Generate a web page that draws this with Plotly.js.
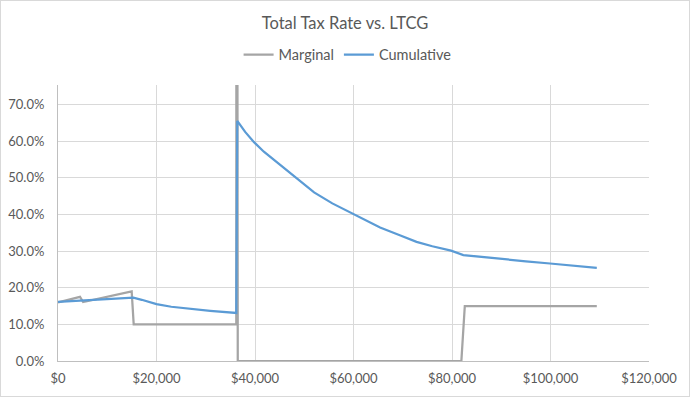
<!DOCTYPE html>
<html>
<head>
<meta charset="utf-8">
<script src="https://cdn.plot.ly/plotly-3.0.1.min.js"></script>
<style>
  html, body { margin: 0; padding: 0; background: #fff; }
  #wrap { width: 690px; height: 397px; box-sizing: border-box; border: 1px solid #D9D9D9; }
  #chart { width: 688px; height: 395px; }
</style>
</head>
<body>
<div id="wrap"><div id="chart"></div></div>
<script>
// Marginal tax rate vs LTCG
const marginalX = [0, 4470, 5100, 14960, 15370, 36200, 36260, 36500, 81900, 82600, 109400];
const marginalY = [0.160, 0.175, 0.161, 0.190, 0.100, 0.100, 3.000, 0.000, 0.000, 0.150, 0.150];

// Cumulative tax rate vs LTCG
const cumulativeX = [0, 4000, 8000, 12600, 15300, 17000, 20000, 23000, 26100, 30900, 36200,
                     36400, 38000, 39800, 41800, 43900, 45900, 47900, 50000, 52000, 55700, 60000,
                     65400, 69400, 72800, 76000, 79800, 82300, 85700, 90000, 95000, 99900, 105000, 109400];
const cumulativeY = [0.161, 0.164, 0.167, 0.172, 0.173, 0.167, 0.155, 0.148, 0.143, 0.137, 0.131,
                     0.655, 0.625, 0.597, 0.571, 0.548, 0.525, 0.503, 0.480, 0.460, 0.430, 0.400,
                     0.364, 0.343, 0.325, 0.313, 0.301, 0.289, 0.284, 0.278, 0.272, 0.266, 0.260, 0.254];

const seriesNames = ["Marginal", "Cumulative"];
const chartTitle = "Total Tax Rate vs. LTCG";

const FONT = "Lato, 'Open Sans', sans-serif";

const traces = [
  { x: marginalX, y: marginalY, name: seriesNames[0], type: "scatter", mode: "lines",
    line: { color: "#A5A5A5", width: 2.25 }, hoverinfo: "skip" },
  { x: cumulativeX, y: cumulativeY, name: seriesNames[1], type: "scatter", mode: "lines",
    line: { color: "#5B9BD5", width: 2.25 }, hoverinfo: "skip" }
];

const layout = {
  width: 688, height: 395,
  margin: { l: 57, r: 40, t: 84, b: 35 },
  paper_bgcolor: "#fff", plot_bgcolor: "#fff",
  font: { family: FONT, size: 13, color: "#595959" },
  title: { text: chartTitle, x: 0.5, xanchor: "center", y: 0.945, yanchor: "middle",
           font: { family: FONT, size: 16.5, color: "#595959" } },
  showlegend: true,
  legend: { orientation: "h", x: 0.49, xanchor: "center", y: 1.11, yanchor: "middle",
            font: { family: FONT, size: 14.5, color: "#595959" }, itemwidth: 30, tracegroupgap: 0 },
  xaxis: { range: [0, 120000], dtick: 20000, tick0: 0, tickformat: "$,.0f",
           showgrid: true, gridcolor: "#D9D9D9", gridwidth: 1, zeroline: false,
           showline: true, linecolor: "#BFBFBF", linewidth: 1, ticks: "", ticklabelstandoff: 5,
           tickfont: { family: FONT, size: 13, color: "#595959" }, fixedrange: true },
  yaxis: { range: [0, 0.753], dtick: 0.1, tick0: 0, tickformat: ".1%",
           showgrid: true, gridcolor: "#D9D9D9", gridwidth: 1, zeroline: false,
           showline: true, linecolor: "#BFBFBF", linewidth: 1, ticks: "", ticklabelstandoff: 10,
           tickfont: { family: FONT, size: 13, color: "#595959" }, fixedrange: true }
};

Plotly.newPlot("chart", traces, layout, { displayModeBar: false, staticPlot: true });
</script>
</body>
</html>
